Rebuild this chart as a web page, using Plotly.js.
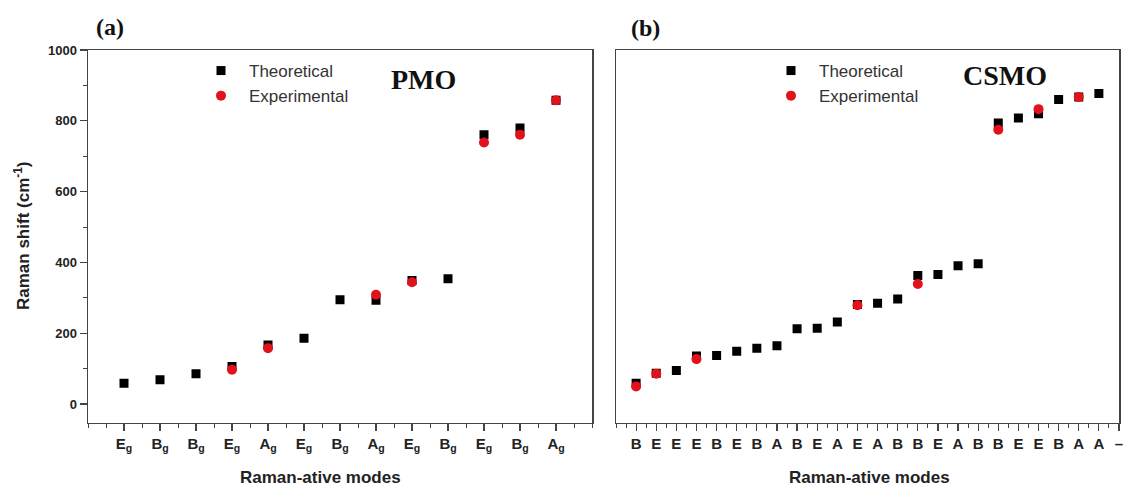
<!DOCTYPE html>
<html>
<head>
<meta charset="utf-8">
<script src="https://cdn.plot.ly/plotly-3.0.1.min.js"></script>
<style>html,body{margin:0;padding:0;background:#fff;}#chart{width:1128px;height:490px;}</style>
</head>
<body>
<div id="chart"></div>
<script>
// ---- Data: panel (a) PMO ----
const pmoModes = ['E','B','B','E','A','E','B','A','E','B','E','B','A'];
const pmoTheoretical = [59, 69, 86, 106, 167, 186, 295, 293, 349, 354, 761, 780, 858];
const pmoExperimental = [null, null, null, 97, 158, null, null, 309, 344, null, 739, 761, 858];

// ---- Data: panel (b) CSMO ----
const csmoModes = ['B','E','E','E','B','E','B','A','B','E','A','E','A','B','B','E','A','B','B','E','E','B','A','A','–'];
const csmoTheoretical = [59, 87, 95, 136, 137, 149, 158, 165, 213, 214, 232, 281, 285, 297, 363, 366, 391, 396, 794, 808, 820, 860, 867, 877, null];
const csmoExperimental = [50, 86, null, 127, null, null, null, null, null, null, null, 279, null, null, 339, null, null, null, 775, null, 833, null, 867, null, null];

const W = 1128, H = 490;
const px = v => v / W;
const py = v => 1 - v / H;

const idx = arr => arr.map((_, i) => i + 1);
const pmoX = idx(pmoModes);
const csmoX = idx(csmoModes);

const black = '#000000';
const red = 'rgb(226,18,28)';

const traces = [
  {x: pmoX, y: pmoTheoretical, xaxis: 'x', yaxis: 'y', type: 'scatter', mode: 'markers',
   name: 'Theoretical', legend: 'legend',
   marker: {symbol: 'square', size: 9, color: black}},
  {x: pmoX, y: pmoExperimental, xaxis: 'x', yaxis: 'y', type: 'scatter', mode: 'markers',
   name: 'Experimental', legend: 'legend',
   marker: {symbol: 'circle', size: 10, color: red}},
  {x: csmoX, y: csmoTheoretical, xaxis: 'x2', yaxis: 'y2', type: 'scatter', mode: 'markers',
   name: 'Theoretical', legend: 'legend2',
   marker: {symbol: 'square', size: 9, color: black}},
  {x: csmoX, y: csmoExperimental, xaxis: 'x2', yaxis: 'y2', type: 'scatter', mode: 'markers',
   name: 'Experimental', legend: 'legend2',
   marker: {symbol: 'circle', size: 10, color: red}}
];

const axColor = '#444';
const sans = 'Liberation Sans, Arial, sans-serif';
const serif = 'Liberation Serif, Times New Roman, serif';
const yDomain = [py(422.5), py(50)];
const yRange = [-52, 1000];

const xCommon = {
  showline: true, linecolor: axColor, linewidth: 1.5, mirror: true,
  showgrid: false, zeroline: false,
  ticks: 'outside', ticklen: 7, tickwidth: 1.2, tickcolor: axColor,
  tickfont: {family: sans, size: 15, color: '#222', weight: 'bold'},
  minor: {dtick: 0.5, tick0: 0, ticks: 'outside', ticklen: 4, tickwidth: 1, tickcolor: axColor, showgrid: false},
  fixedrange: true
};

const layout = {
  width: W, height: H,
  margin: {l: 0, r: 0, t: 0, b: 0},
  paper_bgcolor: '#ffffff', plot_bgcolor: '#ffffff',
  showlegend: true,
  xaxis: Object.assign({}, xCommon, {
    domain: [px(88), px(592)], anchor: 'y', range: [0, 14],
    tickmode: 'array', tickvals: pmoX,
    ticktext: pmoModes.map(m => m + '<sub>g</sub>')
  }),
  yaxis: {
    domain: yDomain, anchor: 'x', range: yRange,
    showline: true, linecolor: axColor, linewidth: 1.5, mirror: true,
    showgrid: false, zeroline: false,
    tick0: 0, dtick: 200, ticks: 'outside', ticklen: 7, tickwidth: 1.2, tickcolor: axColor,
    tickfont: {family: sans, size: 13, color: '#222', weight: 'bold'},
    minor: {dtick: 100, tick0: 0, ticks: 'outside', ticklen: 3.5, tickwidth: 1, tickcolor: axColor, showgrid: false},
    fixedrange: true
  },
  xaxis2: Object.assign({}, xCommon, {
    domain: [px(616), px(1119)], anchor: 'y2', range: [0, 25],
    tickmode: 'array', tickvals: csmoX, ticktext: csmoModes
  }),
  yaxis2: {
    domain: yDomain, anchor: 'x2', range: yRange,
    showline: true, linecolor: axColor, linewidth: 1.5, mirror: true,
    showgrid: false, zeroline: false, showticklabels: false, ticks: '',
    fixedrange: true
  },
  legend: {
    x: px(193), y: py(53), xanchor: 'left', yanchor: 'top',
    bgcolor: 'rgba(0,0,0,0)', borderwidth: 0, itemwidth: 46,
    font: {family: sans, size: 17, color: '#333'}
  },
  legend2: {
    x: px(763), y: py(53), xanchor: 'left', yanchor: 'top',
    bgcolor: 'rgba(0,0,0,0)', borderwidth: 0, itemwidth: 46,
    font: {family: sans, size: 17, color: '#333'}
  },
  annotations: [
    {text: '(a)', xref: 'paper', yref: 'paper', x: px(110), y: py(27), xanchor: 'center', yanchor: 'middle',
     showarrow: false, font: {family: serif, size: 24, color: '#111', weight: 'bold'}},
    {text: '(b)', xref: 'paper', yref: 'paper', x: px(645), y: py(28), xanchor: 'center', yanchor: 'middle',
     showarrow: false, font: {family: serif, size: 24, color: '#111', weight: 'bold'}},
    {text: 'PMO', xref: 'paper', yref: 'paper', x: px(423.5), y: py(80), xanchor: 'center', yanchor: 'middle',
     showarrow: false, font: {family: serif, size: 28, color: '#111', weight: 'bold'}},
    {text: 'CSMO', xref: 'paper', yref: 'paper', x: px(1005), y: py(76), xanchor: 'center', yanchor: 'middle',
     showarrow: false, font: {family: serif, size: 28, color: '#111', weight: 'bold'}},
    {text: 'Raman shift (cm<sup>-1</sup>)', xref: 'paper', yref: 'paper', x: px(22), y: py(236), textangle: -90,
     xanchor: 'center', yanchor: 'middle', showarrow: false,
     font: {family: sans, size: 17, color: '#222', weight: 'bold'}},
    {text: 'Raman-ative modes', xref: 'paper', yref: 'paper', x: px(320), y: py(477), xanchor: 'center', yanchor: 'middle',
     showarrow: false, font: {family: sans, size: 17, color: '#222', weight: 'bold'}},
    {text: 'Raman-ative modes', xref: 'paper', yref: 'paper', x: px(869), y: py(477), xanchor: 'center', yanchor: 'middle',
     showarrow: false, font: {family: sans, size: 17, color: '#222', weight: 'bold'}}
  ]
};

Plotly.newPlot('chart', traces, layout, {displayModeBar: false, staticPlot: true});
</script>
</body>
</html>
